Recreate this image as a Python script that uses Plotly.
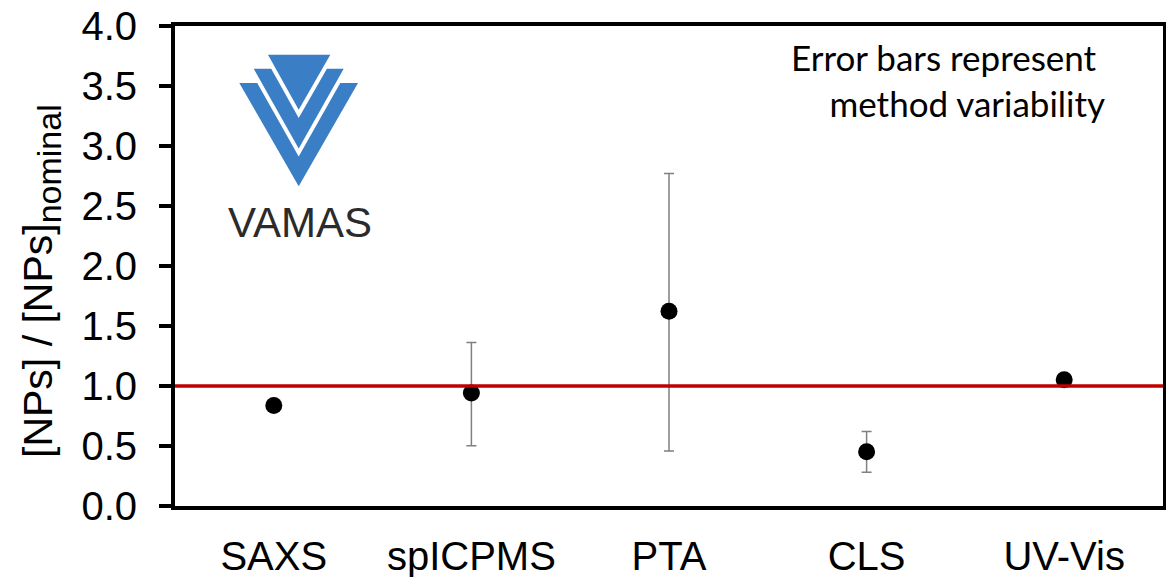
import plotly.graph_objects as go

categories = ["SAXS", "spICPMS", "PTA", "CLS", "UV-Vis"]
values = [0.837, 0.941, 1.622, 0.453, 1.052]
err_plus = [None, 0.422, 1.149, 0.167, None]
err_minus = [None, 0.438, 1.163, 0.172, None]
nominal = 1.0
y_ticks = [0.0, 0.5, 1.0, 1.5, 2.0, 2.5, 3.0, 3.5, 4.0]

# page body adds an 8px offset; compensate so the plot lands where the reference has it
OFF = 8
W, H = 1174 - OFF, 577 - OFF
L, R, T, B = 175 - OFF, 11, 26 - OFF, 71
PW, PH = W - L - R, H - T - B
X0, Y1 = L + OFF, H - B + OFF  # screen px of plot left / bottom


def px(x):
    return (x - X0) / PW


def py(y):
    return (Y1 - y) / PH


fig = go.Figure()
fig.add_trace(go.Scatter(
    x=categories, y=values, mode="markers",
    marker=dict(color="black", size=17),
    error_y=dict(type="data", symmetric=False, array=err_plus, arrayminus=err_minus,
                 color="#808080", thickness=1.5, width=5),
    showlegend=False,
))

fig.add_hline(y=nominal, line=dict(color="#c00000", width=3.5), layer="above")

# VAMAS logo (decorative)
blue = "#3a7ec6"


def tri(pts, color):
    (x1, y1), (x2, y2), (x3, y3) = pts
    path = f"M {px(x1)},{py(y1)} L {px(x2)},{py(y2)} L {px(x3)},{py(y3)} Z"
    fig.add_shape(type="path", path=path, xref="paper", yref="paper",
                  fillcolor=color, line=dict(width=0), layer="below")


tri([(239.3, 83), (358, 83), (298.7, 186.3)], blue)
tri([(249.1, 68.7), (348.3, 68.7), (298.7, 156.5)], "white")
tri([(253.7, 68.7), (343.7, 68.7), (298.7, 148.5)], blue)
tri([(263.4, 54.7), (334.9, 54.7), (298.7, 118.0)], "white")
tri([(268, 54.7), (330.3, 54.7), (298.7, 109.7)], blue)

fig.add_annotation(x=px(299.5), y=py(222), xref="paper", yref="paper", text="VAMAS",
                   showarrow=False, xanchor="center", yanchor="middle",
                   font=dict(family="Liberation Sans, Arial", size=42, color="#2b2b2b"))

fig.add_annotation(x=px(1107), y=py(80), xref="paper", yref="paper",
                   text="Error bars represent\u00a0<br>method variability",
                   showarrow=False, align="right",
                   xanchor="right", yanchor="middle",
                   font=dict(family="Lato, Carlito, sans-serif", size=35, color="black"))

fig.add_annotation(x=px(41), y=py(281), xref="paper", yref="paper",
                   text="[NPs] / [NPs]<sub><span style=\"font-size:34px\">nominal</span></sub>",
                   textangle=-90, showarrow=False, xanchor="center", yanchor="middle",
                   font=dict(family="Liberation Sans, Arial", size=41, color="black"))

fig.update_layout(
    width=W, height=H,
    margin=dict(l=L, r=R, t=T, b=B, autoexpand=False),
    paper_bgcolor="white", plot_bgcolor="white",
    font=dict(family="Liberation Sans, Arial", color="black"),
)
fig.update_xaxes(
    type="category", range=[-0.5, 4.5],
    showline=True, linecolor="black", linewidth=4, mirror=True,
    ticks="", showgrid=False, zeroline=False,
    tickfont=dict(size=40), ticklabelstandoff=12, ticklabeloverflow="allow",
)
fig.update_yaxes(
    range=[0, 4], tickvals=y_ticks, ticktext=[f"{v:.1f}" for v in y_ticks],
    showline=True, linecolor="black", linewidth=4, mirror=True,
    ticks="outside", ticklen=12, tickwidth=4, tickcolor="black",
    showgrid=False, zeroline=False,
    tickfont=dict(size=40), ticklabelstandoff=14, ticklabeloverflow="allow",
)

fig.write_html("out.html")
